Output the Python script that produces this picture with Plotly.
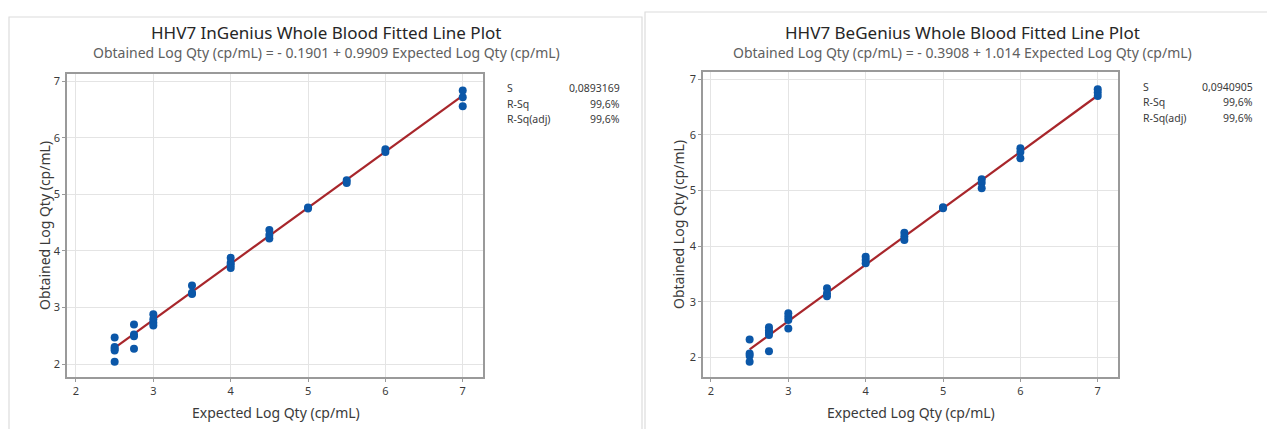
import plotly.graph_objects as go

# ---------------- data ----------------
ing_expected = [2.5, 2.5, 2.5, 2.5, 2.5,
                2.75, 2.75, 2.75, 2.75,
                3, 3, 3, 3,
                3.5, 3.5, 3.5,
                4, 4, 4, 4,
                4.5, 4.5, 4.5,
                5, 5,
                5.5, 5.5,
                6, 6,
                7, 7, 7]
ing_obtained = [2.47, 2.30, 2.27, 2.24, 2.04,
                2.70, 2.52, 2.49, 2.27,
                2.88, 2.79, 2.73, 2.68,
                3.39, 3.26, 3.24,
                3.88, 3.79, 3.75, 3.70,
                4.37, 4.28, 4.22,
                4.77, 4.75,
                5.25, 5.20,
                5.80, 5.75,
                6.84, 6.72, 6.56]
ing_intercept, ing_slope = -0.1901, 0.9909
ing_stats = [("S", "0,0893169"), ("R-Sq", "99,6%"), ("R-Sq(adj)", "99,6%")]

beg_expected = [2.5, 2.5, 2.5, 2.5,
                2.75, 2.75, 2.75, 2.75, 2.75,
                3, 3, 3, 3,
                3.5, 3.5, 3.5,
                4, 4, 4,
                4.5, 4.5, 4.5,
                5, 5,
                5.5, 5.5, 5.5,
                6, 6, 6,
                7, 7, 7]
beg_obtained = [2.32, 2.07, 2.03, 1.92,
                2.54, 2.48, 2.44, 2.40, 2.11,
                2.79, 2.73, 2.67, 2.52,
                3.24, 3.15, 3.10,
                3.81, 3.75, 3.69,
                4.24, 4.17, 4.11,
                4.70, 4.68,
                5.20, 5.14, 5.04,
                5.76, 5.69, 5.58,
                6.82, 6.76, 6.70]
beg_intercept, beg_slope = -0.3908, 1.014
beg_stats = [("S", "0,0940905"), ("R-Sq", "99,6%"), ("R-Sq(adj)", "99,6%")]

titles = ["HHV7 InGenius Whole Blood Fitted Line Plot",
          "HHV7 BeGenius Whole Blood Fitted Line Plot"]
subtitles = ["Obtained Log Qty (cp/mL) = - 0.1901 + 0.9909 Expected Log Qty (cp/mL)",
             "Obtained Log Qty (cp/mL) = - 0.3908 + 1.014 Expected Log Qty (cp/mL)"]
x_title = "Expected Log Qty (cp/mL)"
y_title = "Obtained Log Qty (cp/mL)"
tick_vals = [2, 3, 4, 5, 6, 7]

# ---------------- figure ----------------
W, H = 1267, 429
FONT = "Noto Sans"
BLUE = "#0b57a8"
RED = "#a8262b"
TXT = "#3a3a3a"

fig = go.Figure()

panels = [
    dict(xe=ing_expected, yo=ing_obtained, b0=ing_intercept, b1=ing_slope,
         stats=ing_stats, xa="x", ya="y"),
    dict(xe=beg_expected, yo=beg_obtained, b0=beg_intercept, b1=beg_slope,
         stats=beg_stats, xa="x2", ya="y2"),
]

for p in panels:
    xmin, xmax = min(p["xe"]), max(p["xe"])
    fig.add_trace(go.Scatter(
        x=[xmin, xmax], y=[p["b0"] + p["b1"] * xmin, p["b0"] + p["b1"] * xmax],
        mode="lines", line=dict(color=RED, width=2.2),
        xaxis=p["xa"], yaxis=p["ya"], showlegend=False, hoverinfo="skip"))
    fig.add_trace(go.Scatter(
        x=p["xe"], y=p["yo"], mode="markers",
        marker=dict(color=BLUE, size=8, line=dict(width=0)),
        xaxis=p["xa"], yaxis=p["ya"], showlegend=False))

def px_x(v):
    return v / W

def px_y(v):
    return 1 - v / H

axis_common = dict(
    showgrid=True, gridcolor="#e4e4e4", gridwidth=1,
    showline=True, linecolor="#9a9a9a", linewidth=1.5, mirror=True,
    ticks="outside", ticklen=3, tickcolor="#9a9a9a",
    tickvals=tick_vals, zeroline=False,
    tickfont=dict(family=FONT, size=11, color=TXT),
)

fig.update_layout(
    width=W, height=H,
    margin=dict(l=0, r=0, t=0, b=0),
    paper_bgcolor="white", plot_bgcolor="white",
    font=dict(family=FONT, color=TXT),
    xaxis=dict(domain=[px_x(67), px_x(483)], range=[1.884, 7.262],
               anchor="y", **axis_common),
    yaxis=dict(domain=[px_y(377), px_y(74)], range=[1.77, 7.13],
               anchor="x", **axis_common),
    xaxis2=dict(domain=[px_x(703), px_x(1118)], range=[1.897, 7.262],
                anchor="y2", **axis_common),
    yaxis2=dict(domain=[px_y(377), px_y(72)], range=[1.646, 7.13],
                anchor="x2", **axis_common),
)

# panel frames
fig.add_shape(type="rect", xref="paper", yref="paper",
              x0=px_x(9), x1=px_x(642), y0=-0.05, y1=px_y(17),
              line=dict(color="#dcdcdc", width=1.2), layer="below")
fig.add_shape(type="rect", xref="paper", yref="paper",
              x0=px_x(645), x1=1.05, y0=-0.05, y1=px_y(12),
              line=dict(color="#dcdcdc", width=1.2), layer="below")

ann = []
centers = [326, 962]
for i in range(2):
    ann.append(dict(text=titles[i], x=px_x(centers[i]), y=px_y(33),
                    xref="paper", yref="paper", showarrow=False,
                    xanchor="center", yanchor="middle",
                    font=dict(family=FONT, size=17, color="#262626")))
    ann.append(dict(text=subtitles[i], x=px_x(centers[i]), y=px_y(52),
                    xref="paper", yref="paper", showarrow=False,
                    xanchor="center", yanchor="middle",
                    font=dict(family=FONT, size=14, color="#606060")))

# axis titles
for cx in [276, 911]:
    ann.append(dict(text=x_title, x=px_x(cx), y=px_y(412), xref="paper", yref="paper",
                    showarrow=False, xanchor="center", yanchor="middle",
                    font=dict(family=FONT, size=14, color=TXT)))
for cx, cy in [(44, 226), (678, 225)]:
    ann.append(dict(text=y_title, x=px_x(cx), y=px_y(cy), xref="paper", yref="paper",
                    showarrow=False, xanchor="center", yanchor="middle", textangle=-90,
                    font=dict(family=FONT, size=14, color=TXT)))

# stats tables
for (lx, rx, y0), stats in [((505, 622, 88), ing_stats), ((1141, 1255, 87), beg_stats)]:
    for j, (lab, val) in enumerate(stats):
        yy = y0 + j * 15.5
        ann.append(dict(text=lab, x=px_x(lx), y=px_y(yy), xref="paper", yref="paper",
                        showarrow=False, xanchor="left", yanchor="middle",
                        font=dict(family=FONT, size=10.5, color=TXT)))
        ann.append(dict(text=val, x=px_x(rx), y=px_y(yy), xref="paper", yref="paper",
                        showarrow=False, xanchor="right", yanchor="middle",
                        font=dict(family=FONT, size=10.5, color=TXT)))

fig.update_layout(annotations=ann)

fig.write_html("out.html",
               config={"displayModeBar": False},
               post_script="document.body.style.margin='0';document.body.style.overflow='hidden';")
